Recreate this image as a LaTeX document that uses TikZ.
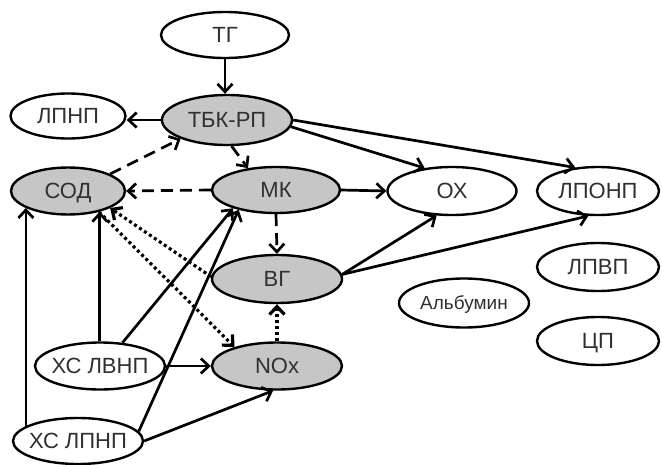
\documentclass[tikz,border=0pt]{standalone}
\usepackage{fontspec}
\setmainfont{Liberation Sans}
\usetikzlibrary{shapes.geometric,arrows.meta}
\definecolor{textgray}{RGB}{48,48,48}
\definecolor{hubgray}{RGB}{198,198,198}
% zero-width box so that the ellipse size is set by minimum width/height only
\newcommand{\ctext}[1]{\makebox[0pt]{#1}}
\tikzset{
  base/.style={ellipse, draw=black, line width=2.4pt, inner sep=0pt,
    text height=15.8pt, text depth=0pt, text=textgray,
    font=\fontsize{22}{24}\selectfont,
    minimum width=130pt, minimum height=48pt},
  hub/.style={base, fill=hubgray},
  plain/.style={base, fill=white},
  small/.style={font=\fontsize{19}{21}\selectfont, text height=13.6pt},
  link/.style={line width=2.7pt, -{Straight Barb[length=8pt,width=15pt]}},
  weak/.style={link, dash pattern=on 12pt off 7pt},
  hint/.style={link, line width=3.2pt, dash pattern=on 3pt off 3pt},
}
\begin{document}
\begin{tikzpicture}[x=1pt, y=-1pt]
\useasboundingbox (0,0) rectangle (662,464);

% nodes
\node[plain, minimum width=128pt, minimum height=46pt] (tg)   at (225,35)  {\ctext{ТГ}};
\node[plain, minimum width=115pt, minimum height=45pt] (lpnp) at (68,116)  {\ctext{ЛПНП}};
\node[hub,   minimum height=50pt]                       (tbk)  at (227,120) {\ctext{ТБК-РП}};
\node[hub,   minimum width=114pt, minimum height=47pt] (sod)  at (68,191)  {\ctext{СОД}};
\node[hub,   minimum width=128pt, minimum height=46pt] (mk)   at (276,190) {\ctext{МК}};
\node[plain, minimum width=129pt]                       (ox)   at (452,191) {\ctext{ОХ}};
\node[plain, minimum width=122pt]                       (lponp) at (598,191) {\ctext{ЛПОНП}};
\node[plain, minimum width=122pt]                       (lpvp) at (598,267) {\ctext{ЛПВП}};
\node[plain, minimum width=122pt]                       (cp)   at (598,341) {\ctext{ЦП}};
\node[plain, small, minimum height=49pt]                (alb)  at (464,303) {\ctext{Альбумин}};
\node[hub]                                              (vg)   at (277,279) {\ctext{ВГ}};
\node[hub,   minimum height=47pt]                       (nox)  at (277,366) {\ctext{NOx}};
\node[plain, minimum height=47pt]                       (xlv)  at (100,366) {\ctext{ХС ЛВНП}};
\node[plain, minimum height=46pt]                       (xlp)  at (78,441)  {\ctext{ХС ЛПНП}};

% solid links
\draw[link] (tg.south) -- (tg.south |- tbk.north);
\draw[link] (tbk.west) -- (tbk.west -| lpnp.east);
\draw[link] (tbk.-6) -- (ox.140);
\draw[link] (tbk.0) -- (lponp.134);
\draw[link] (mk.east) -- (ox.west);
\draw[link] (vg.4) -- (ox.238);
\draw[link] (vg.4) -- (lponp.249);
\draw[link] (sod.-33 |- xlv.north) -- (sod.-33);
\draw[link] (sod.-158 |- xlp.164) -- (sod.-158);
\draw[link] (xlv.46) -- (mk.203);
\draw[link] (xlp.9) -- (mk.208);
\draw[link] (xlv.east) -- (nox.west);
\draw[link] (xlp.0) -- (nox.261);

% dashed links
\draw[weak] (sod.22) -- (tbk.202);
\draw[weak] (tbk.-80) -- (mk.142);
\draw[weak] (mk.west) -- (sod.east);
\draw[weak] (mk.south) -- (vg.north);

% dotted links
\draw[hint] (vg.178) -- (sod.-22);
\draw[hint] (sod.-34) -- (nox.156);
\draw[hint] (nox.north) -- (vg.south);
\end{tikzpicture}
\end{document}
